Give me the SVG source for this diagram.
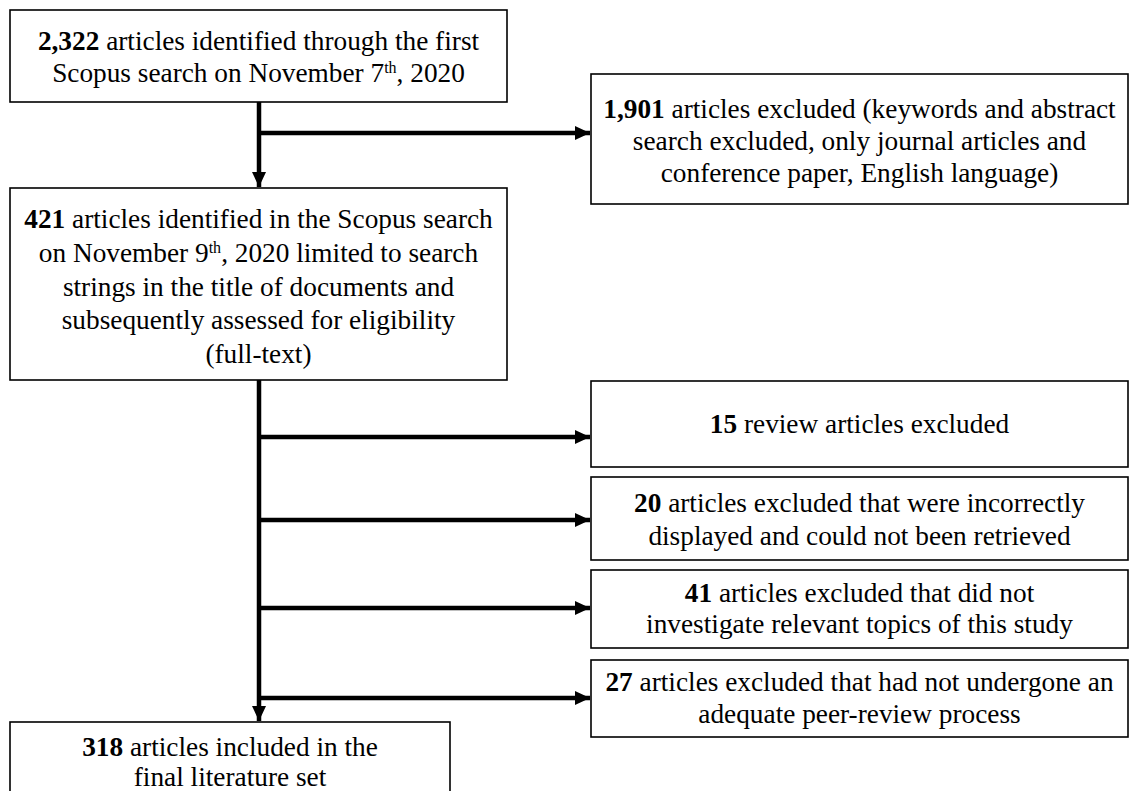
<svg xmlns="http://www.w3.org/2000/svg" width="1132" height="791" viewBox="0 0 1132 791">
<defs>
<marker id="ah" markerUnits="userSpaceOnUse" markerWidth="16" markerHeight="16" viewBox="0 0 16 16" refX="15" refY="8" orient="auto">
<path d="M0,1 L15,8 L0,15 Z" fill="#000"/>
</marker>
<style>
.box{fill:#fff;stroke:#000;stroke-width:1.6}
.t{font-family:"Liberation Serif","Times New Roman",serif;font-size:27.3px;fill:#000;text-anchor:middle}
.b{font-weight:bold}
.sup{font-size:16px}
.c{fill:none;stroke:#000;stroke-width:4.5}
</style>
</defs>
<rect width="1132" height="791" fill="#fff"/>
<g id="connectors">
<line class="c" x1="259" y1="102" x2="259" y2="187" marker-end="url(#ah)"/>
<line class="c" x1="259" y1="133" x2="590" y2="133" marker-end="url(#ah)"/>
<line class="c" x1="259" y1="380" x2="259" y2="721" marker-end="url(#ah)"/>
<line class="c" x1="259" y1="437" x2="590" y2="437" marker-end="url(#ah)"/>
<line class="c" x1="259" y1="520" x2="590" y2="520" marker-end="url(#ah)"/>
<line class="c" x1="259" y1="608" x2="590" y2="608" marker-end="url(#ah)"/>
<line class="c" x1="259" y1="698" x2="590" y2="698" marker-end="url(#ah)"/>
</g>
<g id="n1">
<rect class="box" x="10" y="10" width="497" height="92"/>
<text class="t" x="258.5" y="50"><tspan class="b">2,322</tspan> articles identified through the first</text>
<text class="t" x="258.5" y="82">Scopus search on November 7<tspan class="sup" dy="-9">th</tspan><tspan dy="9">, 2020</tspan></text>
</g>
<g id="n2">
<rect class="box" x="591" y="74" width="537" height="130"/>
<text class="t" x="859.5" y="118"><tspan class="b">1,901</tspan> articles excluded (keywords and abstract</text>
<text class="t" x="859.5" y="150">search excluded, only journal articles and</text>
<text class="t" x="859.5" y="182">conference paper, English language)</text>
</g>
<g id="n3">
<rect class="box" x="10" y="188" width="497" height="192"/>
<text class="t" x="258.5" y="228"><tspan class="b">421</tspan> articles identified in the Scopus search</text>
<text class="t" x="258.5" y="262">on November 9<tspan class="sup" dy="-9">th</tspan><tspan dy="9">, 2020 limited to search</tspan></text>
<text class="t" x="258.5" y="296">strings in the title of documents and</text>
<text class="t" x="258.5" y="329">subsequently assessed for eligibility</text>
<text class="t" x="258.5" y="363">(full-text)</text>
</g>
<g id="n4">
<rect class="box" x="591" y="381" width="537" height="86"/>
<text class="t" x="859.5" y="433"><tspan class="b">15</tspan> review articles excluded</text>
</g>
<g id="n5">
<rect class="box" x="591" y="477" width="537" height="83"/>
<text class="t" x="859.5" y="512"><tspan class="b">20</tspan> articles excluded that were incorrectly</text>
<text class="t" x="859.5" y="545">displayed and could not been retrieved</text>
</g>
<g id="n6">
<rect class="box" x="591" y="570" width="537" height="78"/>
<text class="t" x="859.5" y="602"><tspan class="b">41</tspan> articles excluded that did not</text>
<text class="t" x="859.5" y="633">investigate relevant topics of this study</text>
</g>
<g id="n7">
<rect class="box" x="591" y="660" width="537" height="77"/>
<text class="t" x="859.5" y="691"><tspan class="b">27</tspan> articles excluded that had not undergone an</text>
<text class="t" x="859.5" y="723">adequate peer-review process</text>
</g>
<g id="n8">
<rect class="box" x="10" y="722" width="440" height="80"/>
<text class="t" x="230" y="756"><tspan class="b">318</tspan> articles included in the</text>
<text class="t" x="230" y="786">final literature set</text>
</g>
</svg>
